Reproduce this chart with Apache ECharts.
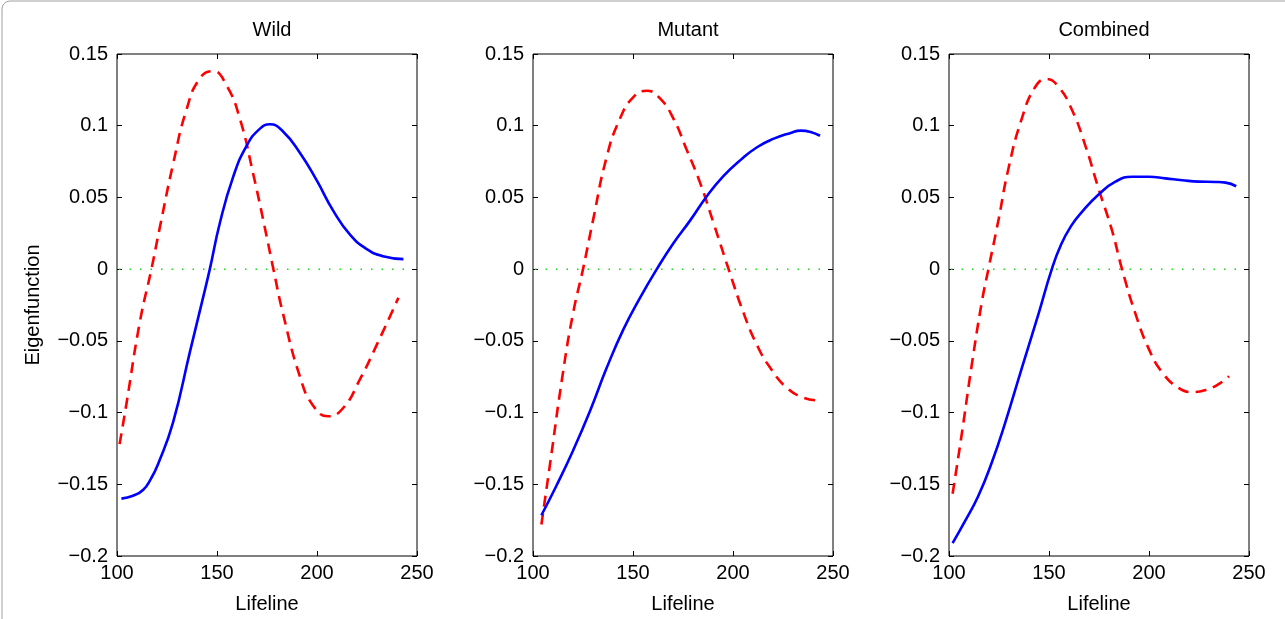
<!DOCTYPE html>
<html>
<head>
<meta charset="utf-8">
<script src="https://cdn.jsdelivr.net/npm/echarts@6/dist/echarts.min.js"></script>
<style>
html,body{margin:0;padding:0;background:#fff;}
#chart{width:1285px;height:619px;}
</style>
</head>
<body>
<div id="chart"></div>
<script>
// ---- data ----
const panelTitles = ['Wild', 'Mutant', 'Combined'];
const xTicks = [100, 150, 200, 250];
const yTicks = [-0.2, -0.15, -0.1, -0.05, 0, 0.05, 0.1, 0.15];

const wildSolidX = [102.2, 108, 113, 117, 120.5, 128, 136.4, 143, 146.4, 151.4, 158, 164.8, 171.5, 176.5, 183, 191.5, 199.8, 208, 216.5, 224.9, 233, 243.2];
const wildSolidY = [-0.160, -0.158, -0.154, -0.146, -0.136, -0.107, -0.058, -0.020, 0, 0.032, 0.064, 0.086, 0.098, 0.101, 0.096, 0.081, 0.062, 0.041, 0.024, 0.014, 0.009, 0.007];
const wildDashX = [101.3, 104.7, 111.4, 117.2, 121.4, 128, 134.7, 141.4, 148, 154.8, 161.4, 168, 174.8, 178.2, 183, 191.5, 198, 205.5, 213, 221.4, 229.8, 240.7];
const wildDashY = [-0.122, -0.094, -0.037, 0, 0.029, 0.073, 0.111, 0.133, 0.138, 0.128, 0.105, 0.067, 0.023, 0, -0.031, -0.075, -0.095, -0.1026, -0.097, -0.077, -0.053, -0.020];

const mutSolidX = [104.2, 111.7, 120, 128.4, 136.8, 145.2, 153.5, 161.9, 170.2, 178.6, 187, 195.3, 203.7, 212, 220.4, 228.8, 233.8, 238.8, 243.5];
const mutSolidY = [-0.1716, -0.151, -0.1266, -0.0993, -0.069, -0.042, -0.020, 0, 0.018, 0.034, 0.051, 0.065, 0.076, 0.085, 0.091, 0.095, 0.0966, 0.0957, 0.093];
const mutDashX = [104.2, 108.4, 115, 120, 125, 130, 136.8, 143.5, 150.2, 156.9, 163.5, 170.2, 176.9, 183.6, 190.3, 197.8, 205.4, 212, 218.7, 227.1, 235.5, 243.5];
const mutDashY = [-0.178, -0.137, -0.072, -0.031, 0, 0.034, 0.078, 0.105, 0.120, 0.1244, 0.119, 0.105, 0.083, 0.060, 0.032, 0, -0.031, -0.053, -0.069, -0.083, -0.0897, -0.0917];

const comSolidX = [101.8, 108, 114.7, 121.4, 128, 136.4, 144.8, 151.4, 156, 161, 166.5, 174.8, 183.2, 191.5, 199.9, 208.2, 216.6, 225, 233.3, 238.3, 243.6];
const comSolidY = [-0.191, -0.1757, -0.158, -0.1348, -0.1075, -0.069, -0.031, 0, 0.017, 0.030, 0.040, 0.052, 0.061, 0.0644, 0.0644, 0.0633, 0.062, 0.061, 0.0608, 0.0603, 0.0578];
const comDashX = [101.8, 106.3, 111.4, 116.4, 119.7, 124.7, 129.7, 136.4, 143.1, 148.9, 154.8, 161.5, 168.2, 174.8, 181.5, 186.5, 193.2, 199.9, 206.6, 215, 221.6, 228.3, 235, 240];
const comDashY = [-0.1566, -0.1157, -0.0666, -0.023, 0, 0.034, 0.070, 0.105, 0.127, 0.1326, 0.127, 0.111, 0.086, 0.056, 0.027, 0, -0.031, -0.0556, -0.072, -0.083, -0.0857, -0.0843, -0.080, -0.0747];

const zeroLineX = [101, 248];
const zeroLineY = [0, 0];

// ---- build ----
const zip = (xs, ys) => xs.map((x, i) => [x, ys[i]]);
const panels = [
  { solid: zip(wildSolidX, wildSolidY), dash: zip(wildDashX, wildDashY) },
  { solid: zip(mutSolidX, mutSolidY), dash: zip(mutDashX, mutDashY) },
  { solid: zip(comSolidX, comSolidY), dash: zip(comDashX, comDashY) }
];

const FONT = "'Liberation Sans', Arial, Helvetica, sans-serif";
const FS = 20;
const gridLefts = [117, 533, 949];
const gridW = 300, gridTop = 54, gridH = 506;

const fmtY = v => {
  const r = Math.round(v * 100) / 100;
  return String(r).replace('-', '\u2212');
};

const option = {
  animation: false,
  backgroundColor: '#fff',
  title: [],
  grid: [],
  xAxis: [],
  yAxis: [],
  series: [],
  graphic: [{
    type: 'rect',
    shape: { x: 2, y: 1, width: 1320, height: 700, r: 8 },
    style: { fill: 'none', stroke: '#a0a0a0', lineWidth: 1 },
    silent: true
  }]
};

panels.forEach((p, i) => {
  option.title.push({
    text: panelTitles[i],
    left: gridLefts[i] + gridW / 2,
    top: 15,
    textAlign: 'center',
    textStyle: { fontFamily: FONT, fontSize: FS, fontWeight: 'normal', color: '#000' }
  });
  option.grid.push({
    left: gridLefts[i], top: gridTop, width: gridW, height: gridH,
    show: true, borderColor: '#000', borderWidth: 1, backgroundColor: 'transparent',
    containLabel: false
  });
  const xBase = {
    type: 'value', gridIndex: i, min: xTicks[0], max: xTicks[xTicks.length - 1], interval: 50,
    splitLine: { show: false },
    axisLine: { show: false, onZero: false },
    axisTick: { show: true, inside: true, length: 5, lineStyle: { color: '#000', width: 1 } }
  };
  option.xAxis.push(Object.assign({}, xBase, {
    position: 'bottom',
    axisLabel: { show: true, margin: 7, fontFamily: FONT, fontSize: FS, color: '#000' },
    name: 'Lifeline', nameLocation: 'middle', nameGap: 38,
    nameTextStyle: { fontFamily: FONT, fontSize: FS, color: '#000' }
  }));
  option.xAxis.push(Object.assign({}, xBase, {
    position: 'top', axisLabel: { show: false }
  }));
  const yBase = {
    type: 'value', gridIndex: i, min: yTicks[0], max: yTicks[yTicks.length - 1], interval: 0.05,
    splitLine: { show: false },
    axisLine: { show: false, onZero: false },
    axisTick: { show: true, inside: true, length: 5, lineStyle: { color: '#000', width: 1 } }
  };
  const yMain = Object.assign({}, yBase, {
    position: 'left',
    axisLabel: { show: true, margin: 9, fontFamily: FONT, fontSize: FS, color: '#000', formatter: fmtY }
  });
  if (i === 0) {
    yMain.name = 'Eigenfunction';
    yMain.nameLocation = 'middle';
    yMain.nameGap = 74;
    yMain.nameTextStyle = { fontFamily: FONT, fontSize: FS, color: '#000' };
  }
  option.yAxis.push(yMain);
  option.yAxis.push(Object.assign({}, yBase, { position: 'right', axisLabel: { show: false } }));

  const xi = 2 * i, yi = 2 * i;
  option.series.push({
    type: 'line', xAxisIndex: xi, yAxisIndex: yi, data: zip(zeroLineX, zeroLineY),
    showSymbol: false, silent: true,
    lineStyle: { color: '#11dd11', width: 1.5, type: [1.5, 9] }, z: 1
  });
  option.series.push({
    type: 'line', xAxisIndex: xi, yAxisIndex: yi, data: p.dash,
    showSymbol: false, smooth: 0.5, silent: true,
    lineStyle: { color: '#ff0000', width: 2.6, type: [11, 7] }, z: 2
  });
  option.series.push({
    type: 'line', xAxisIndex: xi, yAxisIndex: yi, data: p.solid,
    showSymbol: false, smooth: 0.5, silent: true,
    lineStyle: { color: '#0000ff', width: 2.6 }, z: 3
  });
});

const chart = echarts.init(document.getElementById('chart'), null, { renderer: 'canvas' });
chart.setOption(option);
</script>
</body>
</html>
